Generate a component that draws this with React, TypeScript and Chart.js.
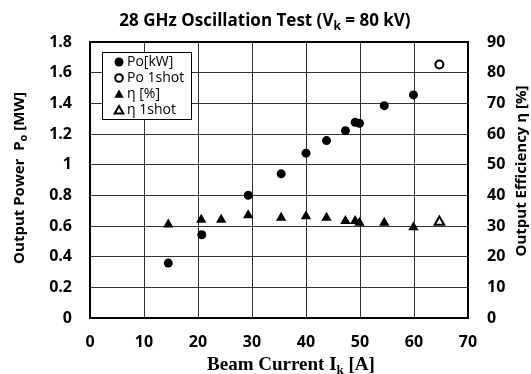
import React, { useEffect, useRef } from 'react';
import { Chart, registerables } from 'chart.js';
Chart.register(...registerables);

// Data
const poCurrent = [14.5, 20.7, 29.3, 35.4, 40.0, 43.8, 47.3, 49.1, 49.9, 54.5, 59.9];
const poPower = [0.358, 0.543, 0.80, 0.94, 1.075, 1.157, 1.222, 1.276, 1.27, 1.385, 1.455];
const po1Current = [64.7];
const po1Power = [1.653];
const etaCurrent = [14.5, 20.6, 24.3, 29.3, 35.4, 40.0, 43.8, 47.3, 49.1, 49.9, 54.5, 59.9];
const etaValue = [30.5, 32.0, 32.0, 33.5, 32.7, 33.2, 32.7, 31.6, 31.6, 31.1, 31.1, 29.6];
const eta1Current = [64.7];
const eta1Value = [31.3];

const xTickLabels = ['0', '10', '20', '30', '40', '50', '60', '70'];
const leftTickLabels = ['0', '0.2', '0.4', '0.6', '0.8', '1', '1.2', '1.4', '1.6', '1.8'];
const rightTickLabels = ['0', '10', '20', '30', '40', '50', '60', '70', '80', '90'];
const legendLabels = ['Po[kW]', 'Po 1shot', 'η [%]', 'η 1shot'];

const SANS = '"Open Sans", "Noto Sans", sans-serif';
const SERIF = '"Liberation Serif", "DejaVu Serif", serif';

function drawWithSub(ctx: CanvasRenderingContext2D, parts: { t: string; sub?: boolean }[], font: string, subFont: string, cx: number, cy: number, subShift: number) {
  let total = 0;
  const widths = parts.map((p) => {
    ctx.font = p.sub ? subFont : font;
    const w = ctx.measureText(p.t).width;
    total += w;
    return w;
  });
  let x = cx - total / 2;
  parts.forEach((p, i) => {
    ctx.font = p.sub ? subFont : font;
    ctx.fillText(p.t, x, cy + (p.sub ? subShift : 0));
    x += widths[i];
  });
}

function marker(ctx: CanvasRenderingContext2D, kind: string, x: number, y: number) {
  ctx.save();
  ctx.strokeStyle = '#000';
  ctx.fillStyle = '#000';
  if (kind === 'circle' || kind === 'ocircle') {
    ctx.beginPath();
    ctx.arc(x, y, kind === 'circle' ? 4.5 : 3.8, 0, Math.PI * 2);
    if (kind === 'circle') ctx.fill();
    else { ctx.lineWidth = 2; ctx.fillStyle = '#fff'; ctx.fill(); ctx.stroke(); }
  } else {
    const r = kind === 'tri' ? 5.5 : 5;
    ctx.beginPath();
    ctx.moveTo(x, y - r);
    ctx.lineTo(x + r * 0.866, y + r * 0.5);
    ctx.lineTo(x - r * 0.866, y + r * 0.5);
    ctx.closePath();
    if (kind === 'tri') ctx.fill();
    else { ctx.lineWidth = 2; ctx.fillStyle = '#fff'; ctx.fill(); ctx.stroke(); }
  }
  ctx.restore();
}

const decorPlugin = {
  id: 'decor',
  afterDraw(chart: any) {
    const ctx: CanvasRenderingContext2D = chart.ctx;
    const a = chart.chartArea;
    ctx.save();
    // frame
    ctx.strokeStyle = '#000';
    ctx.lineWidth = 2;
    ctx.strokeRect(Math.round(a.left), Math.round(a.top), Math.round(a.right - a.left), Math.round(a.bottom - a.top));

    ctx.fillStyle = '#000';
    ctx.textBaseline = 'alphabetic';
    ctx.textAlign = 'left';
    // title
    drawWithSub(ctx, [{ t: '28 GHz Oscillation Test (V' }, { t: 'k', sub: true }, { t: ' = 80 kV)' }],
      `bold 17px ${SANS}`, `bold 12px ${SANS}`, 265, 26, 4);
    // x axis title
    drawWithSub(ctx, [{ t: 'Beam Current I' }, { t: 'k', sub: true }, { t: ' [A]' }],
      `bold 19px ${SERIF}`, `bold 13px ${SERIF}`, 291, 370, 4);
    // left axis title
    ctx.save();
    ctx.translate(24, 178);
    ctx.rotate(-Math.PI / 2);
    drawWithSub(ctx, [{ t: 'Output Power  P' }, { t: 'o', sub: true }, { t: ' [MW]' }],
      `bold 15px ${SANS}`, `bold 11px ${SANS}`, 0, 0, 3);
    ctx.restore();
    // right axis title
    ctx.save();
    ctx.translate(526, 171);
    ctx.rotate(-Math.PI / 2);
    drawWithSub(ctx, [{ t: 'Output Efficiency η [%]' }], `bold 15px ${SANS}`, `bold 11px ${SANS}`, 0, 0, 3);
    ctx.restore();

    // legend
    ctx.fillStyle = '#fff';
    ctx.fillRect(102.5, 52.5, 89, 67);
    ctx.strokeStyle = '#000';
    ctx.lineWidth = 1;
    ctx.strokeRect(102.5, 52.5, 89, 67);
    const kinds = ['circle', 'ocircle', 'tri', 'otri'];
    const rows = [62, 78, 94, 110];
    ctx.font = `14px ${SANS}`;
    ctx.textBaseline = 'middle';
    legendLabels.forEach((lab, i) => {
      marker(ctx, kinds[i], 119, rows[i] + (i >= 2 ? 1 : 0));
      ctx.fillStyle = '#000';
      ctx.fillText(lab, 127, rows[i]);
    });
    ctx.restore();
  },
};

export default function App() {
  const ref = useRef<HTMLCanvasElement>(null);
  useEffect(() => {
    if (!ref.current) return;
    const tickFont = { family: SANS, size: 16, weight: 'bold' as const };
    const chart = new Chart(ref.current, {
      type: 'scatter',
      data: {
        datasets: [
          {
            label: 'Po[kW]',
            data: poCurrent.map((x, i) => ({ x, y: poPower[i] })),
            yAxisID: 'y',
            pointStyle: 'circle',
            pointRadius: 4.5,
            backgroundColor: '#000',
            borderColor: '#000',
            borderWidth: 0,
          },
          {
            label: 'Po 1shot',
            data: po1Current.map((x, i) => ({ x, y: po1Power[i] })),
            yAxisID: 'y',
            pointStyle: 'circle',
            pointRadius: 4,
            backgroundColor: '#fff',
            borderColor: '#000',
            borderWidth: 2,
          },
          {
            label: 'η [%]',
            data: etaCurrent.map((x, i) => ({ x, y: etaValue[i] })),
            yAxisID: 'y2',
            pointStyle: 'triangle',
            pointRadius: 6,
            backgroundColor: '#000',
            borderColor: '#000',
            borderWidth: 0,
          },
          {
            label: 'η 1shot',
            data: eta1Current.map((x, i) => ({ x, y: eta1Value[i] })),
            yAxisID: 'y2',
            pointStyle: 'triangle',
            pointRadius: 5.5,
            backgroundColor: '#fff',
            borderColor: '#000',
            borderWidth: 2,
          },
        ],
      },
      options: {
        responsive: false,
        devicePixelRatio: 1,
        animation: false,
        layout: { padding: { top: 42, left: 0, right: 0, bottom: 0 } },
        plugins: { legend: { display: false }, tooltip: { enabled: false }, title: { display: false } },
        scales: {
          x: {
            type: 'linear',
            min: 0,
            max: 70,
            ticks: { stepSize: 10, font: tickFont, color: '#000', padding: 15, maxRotation: 0,
              callback: (_v: any, i: number) => xTickLabels[i] },
            grid: { color: '#333', lineWidth: 1, drawTicks: false },
            border: { display: false },
            afterFit: (s: any) => { s.height = 56; },
          },
          y: {
            type: 'linear',
            position: 'left',
            min: 0,
            max: 1.8,
            ticks: { stepSize: 0.2, font: tickFont, color: '#000', padding: 18,
              callback: (_v: any, i: number) => leftTickLabels[i] },
            grid: { color: '#333', lineWidth: 1, drawTicks: false },
            border: { display: false },
            afterFit: (s: any) => { s.width = 90; },
          },
          y2: {
            type: 'linear',
            position: 'right',
            min: 0,
            max: 90,
            ticks: { stepSize: 10, font: tickFont, color: '#000', padding: 19,
              callback: (_v: any, i: number) => rightTickLabels[i] },
            grid: { display: false, drawTicks: false },
            border: { display: false },
            afterFit: (s: any) => { s.width = 63; },
          },
        },
      },
      plugins: [decorPlugin],
    } as any);
    return () => chart.destroy();
  }, []);
  return (
    <div style={{ position: 'fixed', left: 0, top: 0, width: 531, height: 374, background: '#fff' }}>
      <canvas ref={ref} width={531} height={374} style={{ width: 531, height: 374 }} />
    </div>
  );
}
